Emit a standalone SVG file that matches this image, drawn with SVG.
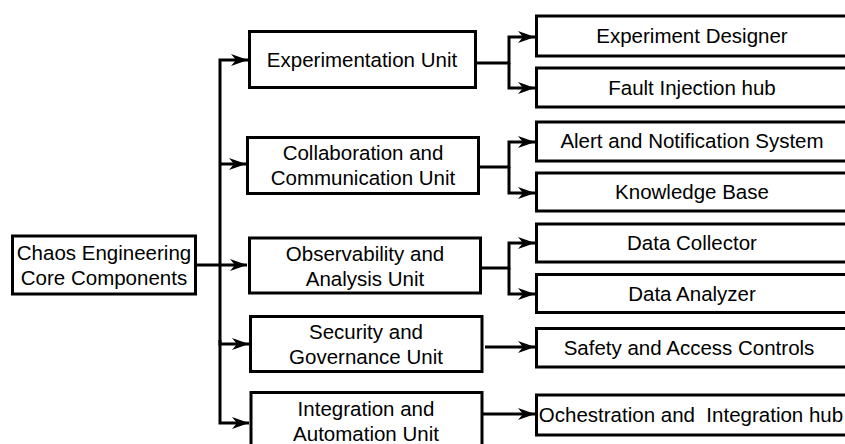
<svg xmlns="http://www.w3.org/2000/svg" width="845" height="444" viewBox="0 0 845 444">
<style>
.box{fill:#fff;stroke:#000;stroke-width:3}
.lbl{font-family:"Liberation Sans",Arial,sans-serif;font-size:20.5px;fill:#000;text-anchor:middle}
.conn{fill:none;stroke:#000;stroke-width:3}
</style>
<defs>
<marker id="arr" markerUnits="userSpaceOnUse" markerWidth="20" markerHeight="14" viewBox="-18 -7 20 14" refX="0" refY="0" orient="auto">
<path d="M0,0 L-17,-6 L-12,0 L-17,6 Z" fill="#000"/>
</marker>
</defs>
<rect width="845" height="444" fill="#fff"/>
<g id="connectors">
<path class="conn" d="M196,265 H247" marker-end="url(#arr)"/>
<path class="conn" d="M220,265 V60 H248" marker-end="url(#arr)"/>
<path class="conn" d="M220,164 H246" marker-end="url(#arr)"/>
<path class="conn" d="M220,265 V344 H249" marker-end="url(#arr)"/>
<path class="conn" d="M220,340 V423 H249" marker-end="url(#arr)"/>
<path class="conn" d="M476,63 H509 V37 H535" marker-end="url(#arr)"/>
<path class="conn" d="M509,63 V88 H535" marker-end="url(#arr)"/>
<path class="conn" d="M480,167 H509 V142 H535" marker-end="url(#arr)"/>
<path class="conn" d="M509,167 V193 H535" marker-end="url(#arr)"/>
<path class="conn" d="M482,268 H509 V243 H535" marker-end="url(#arr)"/>
<path class="conn" d="M509,268 V294 H535" marker-end="url(#arr)"/>
<path class="conn" d="M485,347 H535" marker-end="url(#arr)"/>
<path class="conn" d="M483,414 H535" marker-end="url(#arr)"/>
</g>
<g id="root">
<rect class="box" x="12.5" y="236" width="183" height="58"/>
<text class="lbl" x="104" y="260">Chaos Engineering</text>
<text class="lbl" x="104" y="285">Core Components</text>
</g>
<g id="experimentation">
<rect class="box" x="249.5" y="31.5" width="226" height="56"/>
<text class="lbl" x="362" y="67">Experimentation Unit</text>
</g>
<g id="collaboration">
<rect class="box" x="247.5" y="137.5" width="231" height="56"/>
<text class="lbl" x="363" y="160">Collaboration and</text>
<text class="lbl" x="363" y="185">Communication Unit</text>
</g>
<g id="observability">
<rect class="box" x="249.5" y="238" width="231" height="55"/>
<text class="lbl" x="365" y="261">Observability and</text>
<text class="lbl" x="365" y="286">Analysis Unit</text>
</g>
<g id="security">
<rect class="box" x="250.5" y="316.5" width="231.5" height="55"/>
<text class="lbl" x="366" y="339">Security and</text>
<text class="lbl" x="366" y="364">Governance Unit</text>
</g>
<g id="integration">
<rect class="box" x="251" y="392.5" width="231" height="60"/>
<text class="lbl" x="366" y="416">Integration and</text>
<text class="lbl" x="366" y="441">Automation Unit</text>
</g>
<g id="experiment-designer">
<rect class="box" x="536.5" y="16" width="320" height="40"/>
<text class="lbl" x="692" y="43">Experiment Designer</text>
</g>
<g id="fault-injection">
<rect class="box" x="536.5" y="68" width="320" height="39"/>
<text class="lbl" x="692" y="95">Fault Injection hub</text>
</g>
<g id="alert">
<rect class="box" x="536.5" y="122" width="320" height="39"/>
<text class="lbl" x="692" y="148">Alert and Notification System</text>
</g>
<g id="knowledge-base">
<rect class="box" x="536.5" y="173" width="320" height="38"/>
<text class="lbl" x="692" y="199">Knowledge Base</text>
</g>
<g id="data-collector">
<rect class="box" x="536.5" y="224" width="320" height="38"/>
<text class="lbl" x="692" y="250">Data Collector</text>
</g>
<g id="data-analyzer">
<rect class="box" x="536.5" y="274.5" width="320" height="38"/>
<text class="lbl" x="692" y="301">Data Analyzer</text>
</g>
<g id="safety">
<rect class="box" x="536.5" y="328.5" width="320" height="38.5"/>
<text class="lbl" x="689" y="355">Safety and Access Controls</text>
</g>
<g id="orchestration">
<rect class="box" x="536.5" y="395" width="320" height="40"/>
<text class="lbl" x="691" y="422" xml:space="preserve">Ochestration and  Integration hub</text>
</g>
</svg>
